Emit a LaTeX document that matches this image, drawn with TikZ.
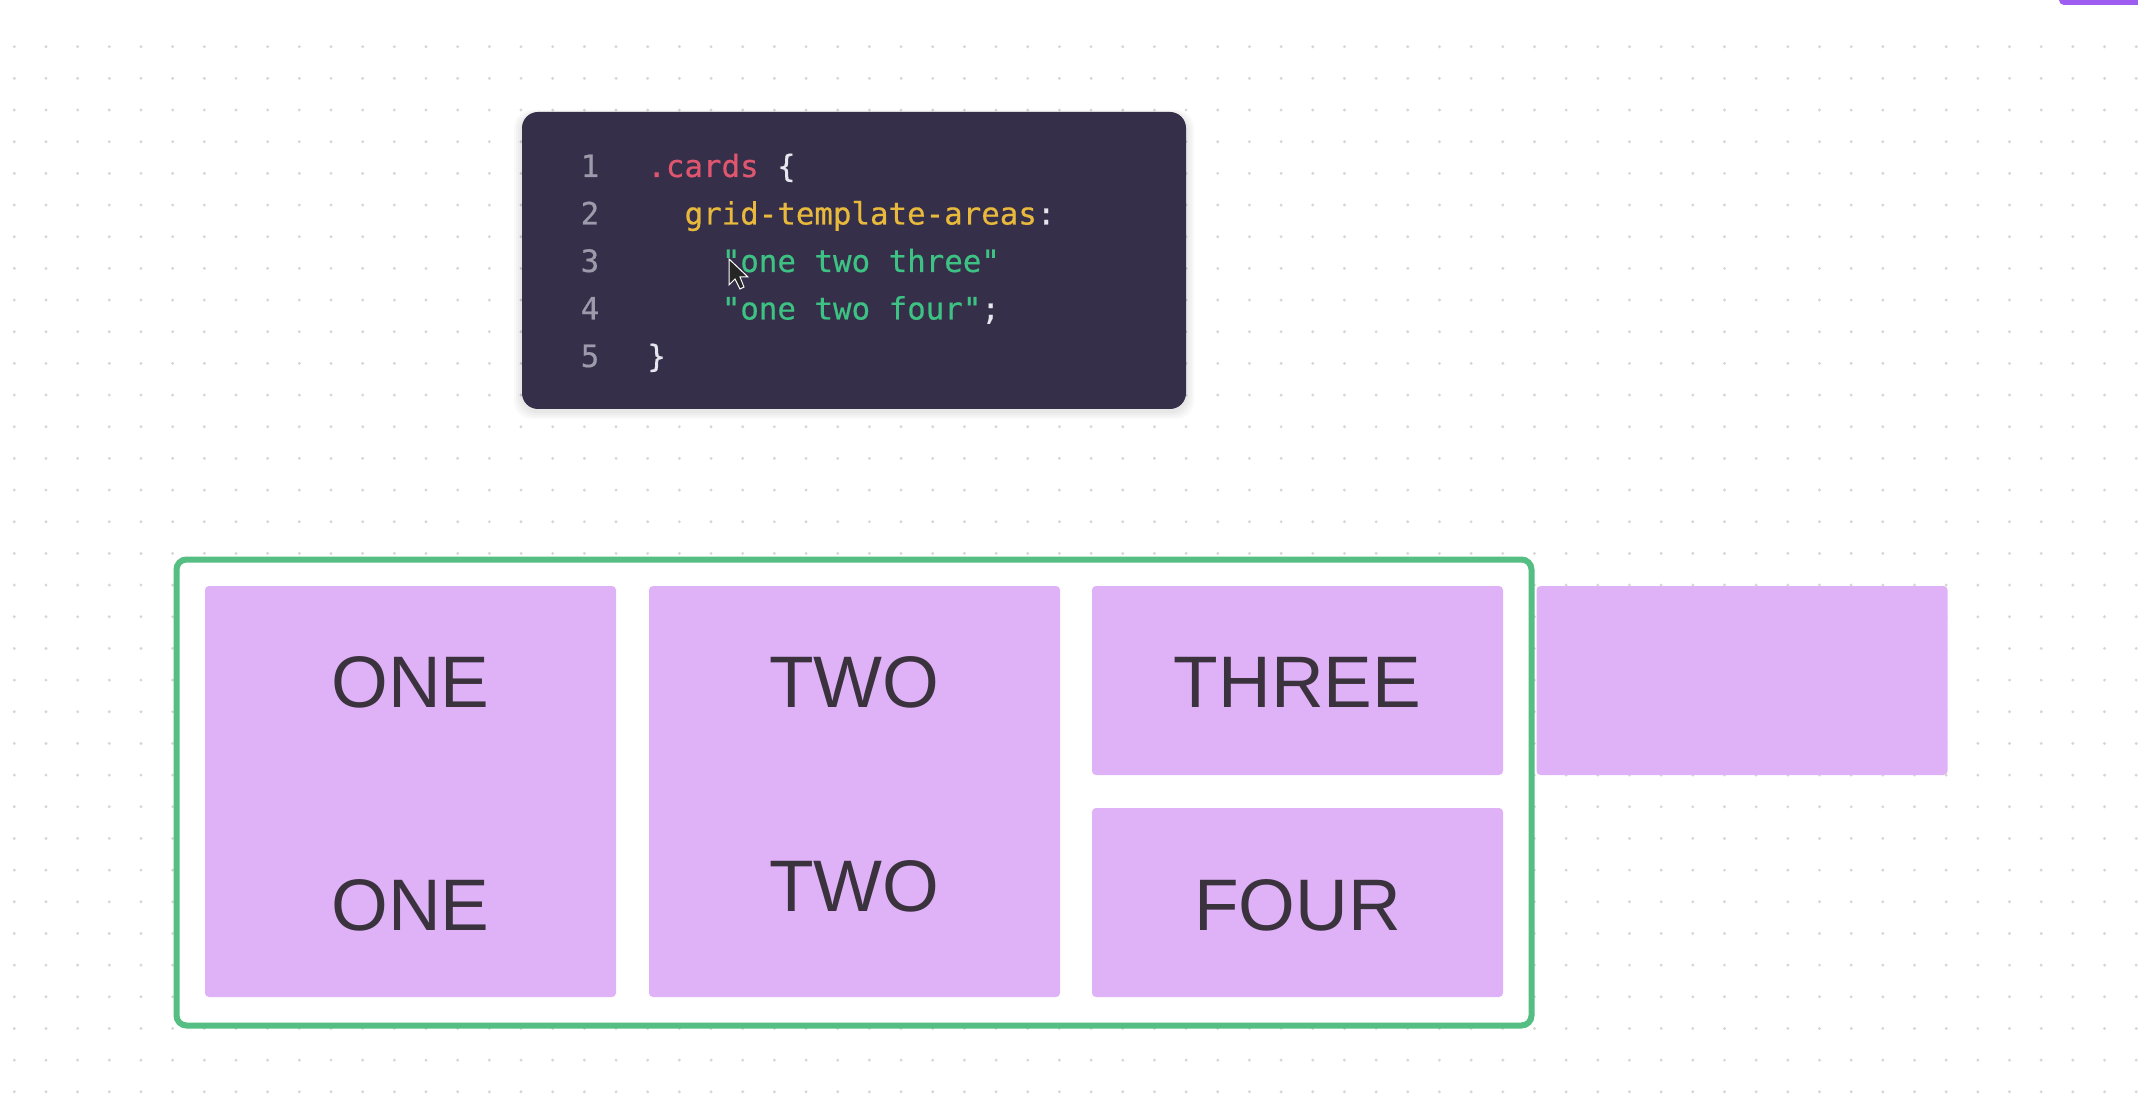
\documentclass[tikz,border=0pt]{standalone}
\usepackage{fontspec}
\setmainfont{Liberation Sans}
\newfontfamily\codefont[FakeBold=0.5]{DejaVu Sans Mono}
\definecolor{cardpurple}{HTML}{DFB2F8}
\definecolor{gridgreen}{HTML}{55BE82}
\definecolor{labelgray}{HTML}{3A323C}
\definecolor{codebg}{HTML}{352F4A}
\definecolor{codered}{HTML}{E0566F}
\definecolor{codeyellow}{HTML}{E8B93C}
\definecolor{codegreen}{HTML}{3DC283}
\definecolor{codewhite}{HTML}{E6E6EE}
\definecolor{numgray}{HTML}{9C9AAB}
\definecolor{dotgray}{HTML}{D6D6D6}
\definecolor{topviolet}{HTML}{9E5CF0}
\begin{document}
\begin{tikzpicture}[x=0.5pt, y=-0.5pt,
    card/.style={fill=cardpurple, rounded corners=2pt, minimum width=205.5pt, inner sep=0pt},
    cardtext/.style={text=labelgray, font=\fontsize{36.5}{40}\selectfont},
    lineno/.style={text=numgray, font=\codefont\fontsize{15.4}{18}\selectfont, anchor=base},
    codeline/.style={font=\codefont\fontsize{15.4}{18}\selectfont, anchor=base west, inner sep=0pt}]
    \def\cell{18.6}

    \useasboundingbox (0,0) rectangle (2138,1118);
    \clip (0,0) rectangle (2138,1118);
    \fill[white] (0,0) rectangle (2138,1118);

    \foreach \i in {0,...,67}
        \foreach \j in {0,...,33}
            \fill[dotgray] ({14.3+31.67*\i},{46.7+31.67*\j}) circle (0.8pt);

    \fill[topviolet, rounded corners=2.5pt] (2059,-20) rectangle (2160,5);

    \foreach \s in {2,4,6,8}
        \fill[black, opacity=0.025, rounded corners=9pt] ({522-\s},{114-\s/2}) rectangle ({1186+\s},{411+\s});
    \node[fill=codebg, rounded corners=8pt, minimum width=332pt, minimum height=148.5pt, inner sep=0pt] (code) at (854,260.5) {};

    \foreach \n in {1,...,5}
        \node[lineno] (num\n) at (590,{177+47.5*(\n-1)}) {\n};

    \node[codeline] (sel)   at (647,177)              {\textcolor{codered}{.cards} \textcolor{codewhite}{\{}};
    \node[codeline] (areas) at ({647+2*\cell},224.5)  {\textcolor{codeyellow}{grid-template-areas}\textcolor{codewhite}{:}};
    \node[codeline] (rowa)  at ({647+4*\cell},272)    {\textcolor{codegreen}{"one two three"}};
    \node[codeline] (rowb)  at ({647+4*\cell},319.5)  {\textcolor{codegreen}{"one two four"}\textcolor{codewhite}{;}};
    \node[codeline] (close) at (647,367)              {\textcolor{codewhite}{\}}};

    \filldraw[fill=black!85, draw=white, line width=0.5pt] (729,259) -- (729,285) -- (735,279) -- (740,289) -- (744,287) -- (740,277) -- (748,277) -- cycle;

    \node[draw=gridgreen, line width=3pt, rounded corners=5pt, fill=white, minimum width=677.5pt, minimum height=233pt, inner sep=0pt] (cards) at (854,792.5) {};

    \node[card, minimum height=205.5pt] (one)   at (410.5,791.5) {};
    \node[card, minimum height=205.5pt] (two)   at (854.5,791.5) {};
    \node[card, minimum height=94.5pt]  (three) at (1297.5,680.5) {};
    \node[card, minimum height=94.5pt]  (four)  at (1297.5,902.5) {};
    \node[card, minimum height=94.5pt]  (extra) at (1742,680.5)   {};

    \node[cardtext] (oneTop)  at (410.5,682)  {ONE};
    \node[cardtext] (oneBot)  at (410.5,905)  {ONE};
    \node[cardtext] (twoTop)  at (854.5,682)  {TWO};
    \node[cardtext] (twoBot)  at (854.5,886)  {TWO};
    \node[cardtext] (threeTxt) at (1297.5,682) {THREE};
    \node[cardtext] (fourTxt) at (1297.5,905) {FOUR};
\end{tikzpicture}
\end{document}
